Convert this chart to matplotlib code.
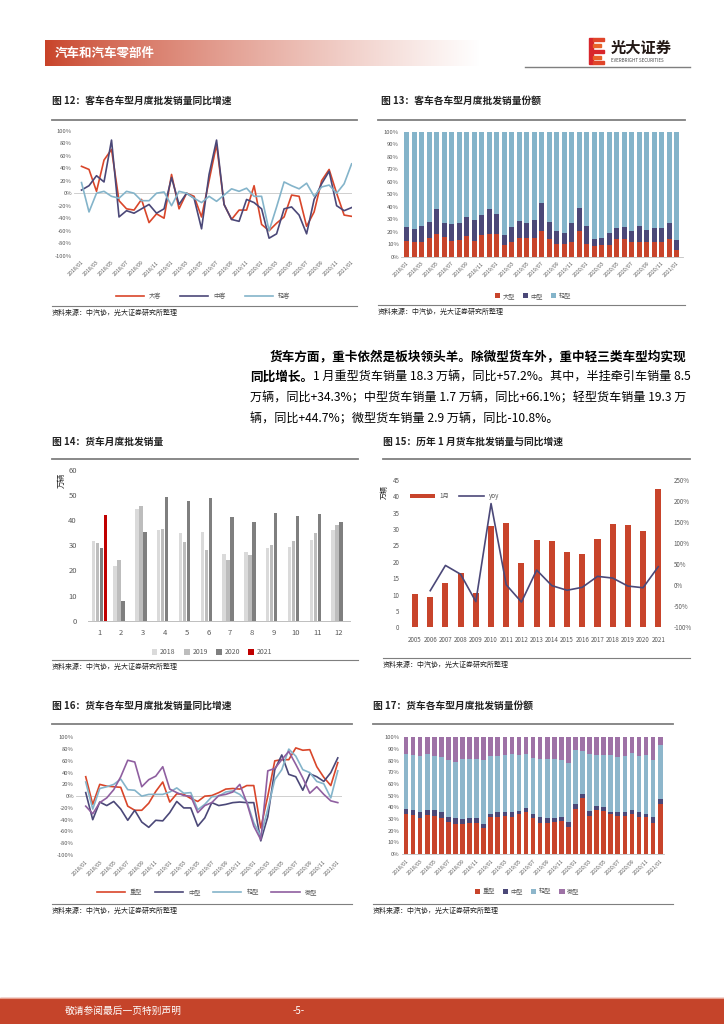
import matplotlib
matplotlib.use('Agg')
import matplotlib.pyplot as plt
import numpy as np
from matplotlib.patches import Rectangle

plt.rcParams['font.family'] = ['Noto Sans CJK SC', 'DejaVu Sans']

W, H = 724, 1024

# ---- data ----
months = ['%d/%02d' % (2018 + k // 12, k % 12 + 1) for k in range(37)]  # 2018/01 .. 2021/01

# fig 12: bus yoy by size (%)
bus_big = [43, 38, 3, 53, 70, -12, -25, -27, -10, -47, -33, -40, 30, -25, 0, -5, -38, 20, 78,
           -18, -42, -27, -27, 12, -50, -60, -48, -38, -3, -5, -53, -30, 20, 38, 0, -35, -37]
bus_mid = [5, 12, 28, 18, 85, -38, -28, -32, -25, -18, -32, -25, 25, -18, 0, -8, -57, 30, 85,
           -18, -42, -45, -10, -15, -25, -72, -65, -25, -22, -35, -65, -10, 15, 35, -20, -28, -23]
bus_light = [17, -30, 0, 3, -5, -8, 3, 0, -12, -12, 0, 2, -20, 3, 0, -8, -15, -5, -13,
             -3, 7, 3, 8, -5, -5, -60, -22, 18, 12, 7, 16, -5, 10, 13, 0, 15, 47]

# fig 13: bus share (%)
bshare_big = [12.8, 12, 12, 14.7, 18, 16, 12.8, 13.3, 16.5, 12.8, 17.3, 18, 18, 9.3, 12, 14.7, 14.7,
              14.7, 20.5, 14.4, 10, 10, 12, 20.8, 10, 8.5, 9.6, 9.6, 14, 14.4, 11.7, 11.7, 11.7,
              11.7, 11.7, 14, 5.3]
bshare_mid = [10.9, 10.4, 12.5, 13, 19.9, 11.2, 13.3, 13.9, 15.5, 16.2, 16, 19.9, 15.9, 8, 11.7,
              13.8, 12.5, 14.9, 22.5, 13.3, 10.8, 9, 15, 18.2, 14.5, 5.9, 5.4, 9.4, 9.2, 9.3, 9.1,
              13.1, 9.6, 11.3, 11.3, 13, 8]
bshare_light = [100 - a - b for a, b in zip(bshare_big, bshare_mid)]

# fig 14: truck monthly wholesale (10k units)
tmonth = list(range(1, 13))
truck_2018 = [31.7, 21.9, 44.5, 36.1, 34.8, 35.5, 26.4, 27.2, 29.0, 29.2, 32.1, 36.1]
truck_2019 = [31.1, 24.0, 45.5, 36.5, 31.3, 28.2, 24.0, 26.3, 30.1, 31.7, 34.8, 38.0]
truck_2020 = [29.1, 7.8, 35.5, 49.4, 47.8, 49.0, 41.2, 39.4, 42.9, 41.7, 42.4, 39.2]
truck_2021 = [42.1]

# fig 15: January truck sales by year
years = list(range(2005, 2022))
jan_sales = [10.2, 9.2, 13.5, 16.6, 10.4, 30.9, 31.9, 19.7, 26.6, 26.3, 23.0, 22.4, 27.1, 31.7,
             31.2, 29.3, 42.2]
jan_yoy = [-13, 47, 26, -39, 194, 1, -40, 36, -1, -12, -5, 21, 17, -2, -6, 44]  # 2006..2021

# fig 16: truck yoy by type (%)
tr_heavy = [33, -14, 20, 17, 16, 15, -17, -24, -24, -12, 8, 24, -10, 4, 3, -4, -9, 0, 1, 6, 12,
            13, 12, 18, 18, -54, 0, 60, 62, 62, 82, 78, 79, 50, 32, 18, 57]
tr_mid = [6, -40, -10, -16, -9, -22, -41, -24, -44, -53, -41, -42, -28, -9, -20, -20, -51, -37,
          -11, -16, -14, -11, -10, -11, -11, -76, -35, 45, 70, 37, 33, 10, 38, 33, 25, 40, 65]
tr_light = [24, -22, 13, 16, 20, 29, 11, 10, 0, 3, 3, 3, 7, 14, 5, 6, -23, -14, -1, 0, 7, 9, 3,
            -9, -45, -68, -22, 28, 45, 80, 68, 45, 40, 25, 21, -3, 43]
tr_micro = [-17, -30, -11, -3, 11, 33, 61, 58, 16, 28, 34, 50, 12, 6, 1, 0, -28, -16, -11, 1, 3,
            7, 20, -11, -51, -74, 43, 47, 62, 76, 54, 31, 5, 16, 3, -8, -11]

# fig 17: truck share (%)
tshare_heavy = [34, 33, 31, 33.4, 32.3, 31, 27.7, 25.7, 26, 26.6, 26.6, 22.6, 31.4, 31.7, 32.3,
                31.7, 34, 36, 31, 26.9, 26.9, 27.7, 28.3, 23.1, 38.9, 47.7, 32.9, 37.7, 36.6, 34,
                32.9, 32.9, 34, 31.7, 31.7, 26.9, 42.9]
tshare_mid = [4.6, 4.7, 5, 4.3, 5.4, 4.7, 4.3, 5.2, 4, 4.5, 4.3, 3.1, 2.9, 4.3, 3.7, 4.3, 2.9, 3.1,
              3.3, 4.8, 4, 3.2, 3.4, 4, 4, 3.7, 4, 3.7, 3.7, 2.3, 3.1, 3.1, 3.7, 4.3, 2.6, 4.8, 4.2]
tshare_light = [47.1, 46.9, 48, 48, 46.3, 47.2, 48.6, 47.7, 51.4, 50.3, 50.5, 54.9, 49.7, 48, 48.6,
                49.7, 47.7, 46.6, 48, 49.7, 50.5, 50.8, 48.9, 50.6, 46.2, 36.6, 48.8, 43.5, 44.6,
                48.6, 47.1, 48, 48.9, 48, 50.6, 48.9, 46.3]
tshare_micro = [14.3, 15.4, 16, 14.3, 16, 17.1, 19.4, 21.4, 18.6, 18.6, 18.6, 19.4, 16, 16, 15.4,
                14.3, 15.4, 14.3, 17.7, 18.6, 18.6, 18.3, 19.4, 22.3, 10.9, 12, 14.3, 15.1, 15.1,
                15.1, 16.9, 16, 13.4, 16, 15.1, 19.4, 6.6]

RED = '#D9462A'
NAVY = '#4B4878'
LBLUE = '#84B4CA'
PURPLE = '#8F5FA0'
BRED = '#C8442B'
TXT = '#595959'
SRC = '资料来源：中汽协，光大证券研究所整理'


def rect(l, t, r, b):
    return [l / W, 1 - b / H, (r - l) / W, (b - t) / H]


def fy(y):
    return 1 - y / H


fig = plt.figure(figsize=(7.24, 10.24), dpi=100)
bg = fig.add_axes([0, 0, 1, 1])

# header
g = np.linspace(0, 1, 300) ** 0.8
c0 = np.array([200, 66, 40]) / 255
img = np.zeros((1, 300, 3))
for k in range(3):
    img[0, :, k] = c0[k] + (1 - c0[k]) * g
bg.imshow(img, extent=(45, 480, 66, 40), aspect='auto')
bg.text(55, 53, '汽车和汽车零部件', color='white', fontsize=9, fontweight='bold', va='center')
bg.add_patch(Rectangle((589, 38), 4, 26, color='#D8262C'))
for yy, ww, cc in [(38, 11, '#E0452A'), (44, 8, '#E8632A'), (50, 11, '#D8262C'),
                   (56, 8, '#E8632A'), (61, 11, '#E0452A')]:
    bg.add_patch(Rectangle((593, yy), ww, 3, color=cc))
bg.text(611, 48, '光大证券', fontsize=11, fontweight='bold', va='center', color='#231815')
bg.text(611, 60, 'EVERBRIGHT SECURITIES', fontsize=3.2, va='center', color='#444444')
bg.plot([525, 690], [66.5, 66.5], color='#7f7f7f', lw=1)

# footer
bg.add_patch(Rectangle((0, 998), W, 26, color='#C5442A'))
bg.plot([0, W], [997.5, 997.5], color='#E8A090', lw=0.8)
bg.text(65, 1011, '敬请参阅最后一页特别声明', color='white', fontsize=7, va='center')
bg.text(293, 1011, '-5-', color='white', fontsize=7, va='center')

# titles and rules
titles = [(52, 101, '图 12：客车各车型月度批发销量同比增速'), (381, 101, '图 13：客车各车型月度批发销量份额'),
          (52, 442, '图 14：货车月度批发销量'), (383, 442, '图 15：历年 1 月货车批发销量与同比增速'),
          (52, 706, '图 16：货车各车型月度批发销量同比增速'), (373, 706, '图 17：货车各车型月度批发销量份额')]
for x0, y0, t in titles:
    bg.text(x0, y0, t, fontsize=7, fontweight='bold', va='center', color='#222222')
for x0, x1, y0 in [(52, 357, 119.5), (378, 685, 119.5), (52, 358, 459), (383, 690, 459),
                   (52, 352, 723.5), (373, 673, 723.5)]:
    bg.plot([x0, x1], [y0, y0], color='#7f7f7f', lw=1.3)
for x0, x1, y0 in [(52, 357, 305.5), (378, 685, 304.5), (52, 358, 660), (383, 690, 658),
                   (52, 352, 903.5), (373, 673, 903.5)]:
    bg.plot([x0, x1], [y0, y0], color='#7f7f7f', lw=0.8)
    bg.text(x0, y0 + 7, SRC, fontsize=5, va='center', color='#222222')

# paragraph
fb, fr = 9.1, 8.7
bg.text(270, 357, '货车方面，重卡依然是板块领头羊。除微型货车外，重中轻三类车型均实现',
        fontsize=fb, fontweight='bold', va='center')
bg.text(250, 377.5, '同比增长。', fontsize=fb, fontweight='bold', va='center')
bg.text(313, 377.5, '1 月重型货车销量 18.3 万辆，同比+57.2%。其中，半挂牵引车销量 8.5',
        fontsize=fr, va='center')
bg.text(250, 398, '万辆，同比+34.3%；中型货车销量 1.7 万辆，同比+66.1%；轻型货车销量 19.3 万',
        fontsize=fr, va='center')
bg.text(250, 418.5, '辆，同比+44.7%；微型货车销量 2.9 万辆，同比-10.8%。', fontsize=fr, va='center')

bg.set_xlim(0, W)
bg.set_ylim(H, 0)
bg.axis('off')

x = np.arange(37)


def style(ax, yfs=4.2):
    for s in ax.spines.values():
        s.set_visible(False)
    ax.tick_params(length=0, labelsize=yfs, colors=TXT, pad=1.5)


def month_ticks(ax):
    ax.set_xticks(x[::2])
    ax.set_xticklabels(months[::2], rotation=45, ha='right', rotation_mode='anchor', fontsize=3.8,
                       color=TXT)
    ax.tick_params(axis='x', pad=3)


# ---- fig 12 ----
ax = fig.add_axes(rect(74, 130.7, 352, 255.7))
l1, = ax.plot(x, bus_big, color=RED, lw=1.2, label='大客')
l2, = ax.plot(x, bus_mid, color=NAVY, lw=1.2, label='中客')
l3, = ax.plot(x, bus_light, color=LBLUE, lw=1.2, label='轻客')
ax.axhline(0, color='#c8c8c8', lw=0.6, zorder=0)
ax.set_xlim(-1, 36.05)
ax.set_ylim(-100, 100)
ax.set_yticks(range(-100, 101, 20))
ax.set_yticklabels(['%d%%' % v for v in range(-100, 101, 20)])
style(ax)
month_ticks(ax)
ax.legend(handles=[l1, l2, l3], loc='center', bbox_to_anchor=(203 / W, fy(296)),
          bbox_transform=fig.transFigure, ncol=3, frameon=False, fontsize=4.5, handlelength=4.5,
          columnspacing=3, labelcolor=TXT)

# ---- fig 13 ----
ax = fig.add_axes(rect(401, 131.7, 683, 256.7))
bw = 0.62
b1 = ax.bar(x, bshare_big, bw, color=BRED, label='大型')
b2 = ax.bar(x, bshare_mid, bw, bottom=bshare_big, color=NAVY, label='中型')
b3 = ax.bar(x, bshare_light, bw, bottom=[a + b for a, b in zip(bshare_big, bshare_mid)],
            color=LBLUE, label='轻型')
ax.set_xlim(-0.76, 36.84)
ax.set_ylim(0, 100)
ax.set_yticks(range(0, 101, 10))
ax.set_yticklabels(['%d%%' % v for v in range(0, 101, 10)])
style(ax)
ax.spines['bottom'].set_visible(True)
ax.spines['bottom'].set_color('#bfbfbf')
ax.spines['bottom'].set_linewidth(0.6)
month_ticks(ax)
ax.legend(handles=[b1, b2, b3], loc='center', bbox_to_anchor=(533 / W, fy(296)),
          bbox_transform=fig.transFigure, ncol=3, frameon=False, fontsize=4.5, handlelength=0.9,
          handleheight=0.9, columnspacing=1.2, handletextpad=0.4, labelcolor=TXT)

# ---- fig 14 ----
ax = fig.add_axes(rect(88, 470, 350, 620.7))
m = np.array(tmonth)
off = 0.183
bw = 0.155
c18 = ax.bar(m - 1.5 * off, truck_2018, bw, color='#DADADA', label='2018')
c19 = ax.bar(m - 0.5 * off, truck_2019, bw, color='#BDBDBD', label='2019')
c20 = ax.bar(m + 0.5 * off, truck_2020, bw, color='#7F7F7F', label='2020')
c21 = ax.bar(m[:1] + 1.5 * off, truck_2021, bw, color='#C00000', label='2021')
ax.set_xlim(0.48, 12.5)
ax.set_ylim(0, 60)
ax.set_yticks(range(0, 61, 10))
ax.set_xticks(tmonth)
style(ax, 5.5)
ax.tick_params(axis='y', pad=8)
ax.tick_params(axis='x', pad=6)
ax.spines['bottom'].set_visible(True)
ax.spines['bottom'].set_color('#bfbfbf')
ax.spines['bottom'].set_linewidth(0.7)
bg.text(62, 480, '万辆', rotation=90, fontsize=5.5, va='center', ha='center', color='#222222')
ax.legend(handles=[c18, c19, c20, c21], loc='center', bbox_to_anchor=(212 / W, fy(652.5)),
          bbox_transform=fig.transFigure, ncol=4, frameon=False, fontsize=5, handlelength=0.8,
          handleheight=0.8, columnspacing=1.2, handletextpad=0.4, labelcolor=TXT)

# ---- fig 15 ----
ax = fig.add_axes(rect(405, 480, 668, 627.3))
bars = ax.bar(years, jan_sales, 0.4, color=BRED, label='1月')
ax.set_xlim(2004.34, 2021.64)
ax.set_ylim(0, 45)
ax.set_yticks(range(0, 46, 5))
ax.set_xticks(years)
style(ax, 4.5)
ax.tick_params(axis='x', pad=6)
ax.tick_params(axis='y', pad=4)
ax2 = ax.twinx()
ln, = ax2.plot(years[1:], jan_yoy, color=NAVY, lw=1.2, label='yoy')
ax2.set_ylim(-100, 250)
ax2.set_yticks(range(-100, 251, 50))
ax2.set_yticklabels(['%d%%' % v for v in range(-100, 251, 50)])
style(ax2, 4.5)
ax2.tick_params(axis='y', pad=4)
bg.text(385, 492, '万辆', rotation=90, fontsize=5, va='center', ha='center', color='#222222')
ax2.legend(handles=[bars, ln], loc='center left', bbox_to_anchor=(404 / W, fy(496)),
           bbox_transform=fig.transFigure, ncol=2, frameon=False, fontsize=4.5, handlelength=4,
           columnspacing=1.5, handletextpad=0.8, labelcolor=TXT)

# ---- fig 16 ----
ax = fig.add_axes(rect(76, 737.3, 342, 855))
h1, = ax.plot(x, tr_heavy, color=RED, lw=1.2, label='重型')
h2, = ax.plot(x, tr_mid, color=NAVY, lw=1.2, label='中型')
h3, = ax.plot(x, tr_light, color=LBLUE, lw=1.2, label='轻型')
h4, = ax.plot(x, tr_micro, color=PURPLE, lw=1.2, label='微型')
ax.axhline(0, color='#c8c8c8', lw=0.6, zorder=0)
ax.set_xlim(-1.39, 36.6)
ax.set_ylim(-100, 100)
ax.set_yticks(range(-100, 101, 20))
ax.set_yticklabels(['%d%%' % v for v in range(-100, 101, 20)])
style(ax)
month_ticks(ax)
ax.legend(handles=[h1, h2, h3, h4], loc='center', bbox_to_anchor=(207 / W, fy(892.5)),
          bbox_transform=fig.transFigure, ncol=4, frameon=False, fontsize=4.5, handlelength=4.5,
          columnspacing=2, labelcolor=TXT)

# ---- fig 17 ----
ax = fig.add_axes(rect(401.7, 737.3, 664, 854))
bw = 0.66
bot = np.zeros(37)
hs = []
for vals, col, lab in [(tshare_heavy, BRED, '重型'), (tshare_mid, NAVY, '中型'),
                       (tshare_light, '#8DB6CB', '轻型'), (tshare_micro, '#9E72A6', '微型')]:
    hs.append(ax.bar(x, vals, bw, bottom=bot, color=col, label=lab))
    bot = bot + np.array(vals)
ax.set_xlim(-0.61, 36.54)
ax.set_ylim(0, 100)
ax.set_yticks(range(0, 101, 10))
ax.set_yticklabels(['%d%%' % v for v in range(0, 101, 10)])
style(ax)
ax.spines['bottom'].set_visible(True)
ax.spines['bottom'].set_color('#bfbfbf')
ax.spines['bottom'].set_linewidth(0.6)
month_ticks(ax)
ax.legend(handles=hs, loc='center', bbox_to_anchor=(527 / W, fy(891.5)),
          bbox_transform=fig.transFigure, ncol=4, frameon=False, fontsize=4.5, handlelength=0.9,
          handleheight=0.9, columnspacing=1.2, handletextpad=0.4, labelcolor=TXT)

fig.savefig('out.png', dpi=100)
